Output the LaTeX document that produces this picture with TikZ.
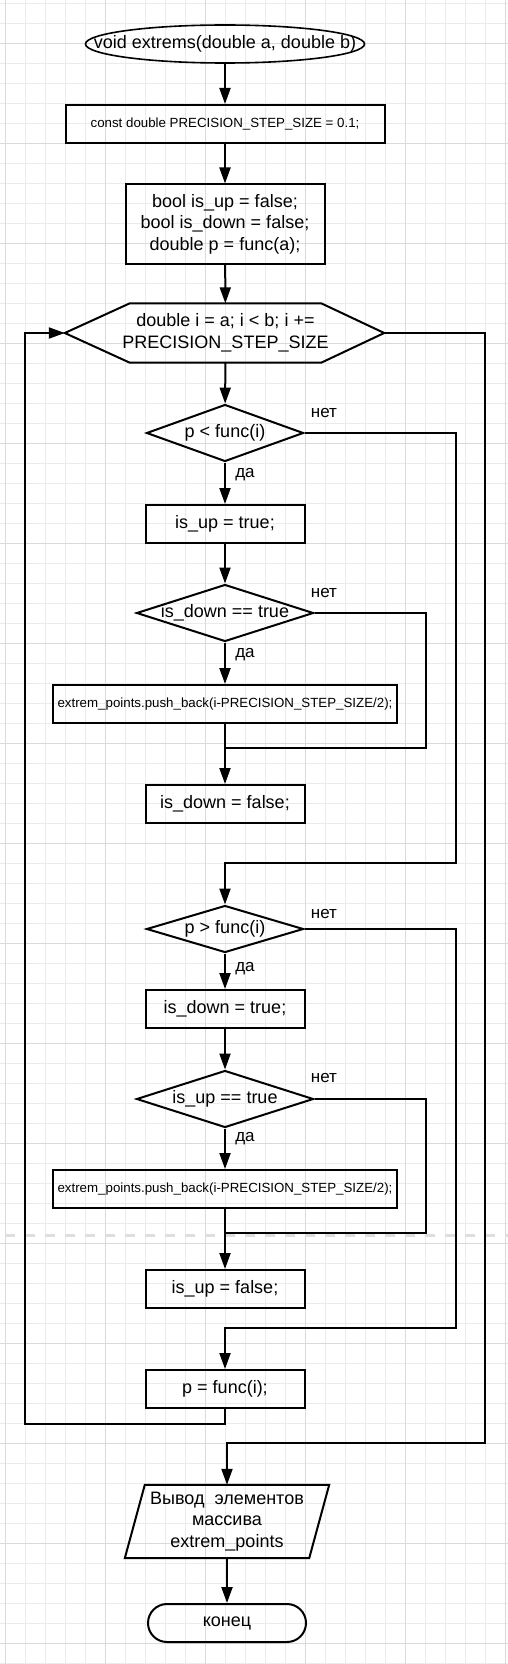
\documentclass[tikz,border=0pt]{standalone}
\usepackage{fontspec}
\setmainfont{Liberation Sans}
\usetikzlibrary{shapes.geometric,arrows.meta}

\definecolor{gridminor}{RGB}{235,235,235}
\definecolor{gridmajor}{RGB}{218,218,218}
\definecolor{pagebreak}{RGB}{222,222,222}

\tikzset{
  block/.style={draw, line width=2pt, minimum height=38pt, inner sep=1pt, align=center, font=\fontsize{18}{21.6}\selectfont},
  small/.style={font=\fontsize{13.3}{16}\selectfont},
  cond/.style={draw, diamond, line width=2pt, inner sep=0pt, font=\fontsize{18}{21.6}\selectfont},
  lbl/.style={inner sep=0pt, font=\fontsize{17}{20}\selectfont},
  line/.style={line width=2pt},
  arr/.style={line width=2pt, -{Triangle[length=16pt,width=11pt]}}
}

\begin{document}
\begin{tikzpicture}[x=1pt,y=-1pt]
\useasboundingbox (0,0) rectangle (508,1664);
\fill[white] (0,0) rectangle (508,1664);
\foreach \x in {5,25,...,505} \draw[gridminor] (\x,0) -- (\x,1664);
\foreach \y in {3,23,...,1663} \draw[gridminor] (0,\y) -- (508,\y);
\foreach \x in {5,105,...,505} \draw[gridmajor] (\x,0) -- (\x,1664);
\foreach \y in {43,143,...,1643} \draw[gridmajor] (0,\y) -- (508,\y);
\draw[pagebreak, line width=3pt, dash pattern=on 10pt off 10pt] (5,1235) -- (508,1235);

\node[draw, ellipse, line width=1.6pt, inner sep=0pt, minimum width=279pt, minimum height=38pt, font=\fontsize{18}{21.6}\selectfont] (start) at (225,44) {\makebox[0pt]{void extrems(double a, double b)}};
\node[block, small, minimum width=319pt] (init) at (225,124) {const double PRECISION\_STEP\_SIZE = 0.1;};
\node[block, minimum width=199pt, minimum height=79pt] (vars) at (225,224) {bool is\_up = false;\\bool is\_down = false;\\double p = func(a);};

\node[align=center, inner sep=0pt, minimum width=191pt, minimum height=59pt, font=\fontsize{18}{21.6}\selectfont] (loop) at (225.5,333) {\makebox[0pt]{double i = a; i < b; i +=}\\\makebox[0pt]{PRECISION\_STEP\_SIZE}};
\coordinate (loopL) at ([xshift=-65pt]loop.west);
\coordinate (loopR) at ([xshift=63pt]loop.east);
\draw[line] (loop.north west) -- (loop.north east) -- (loopR) -- (loop.south east) -- (loop.south west) -- (loopL) -- cycle;

\node[cond, minimum width=157pt, minimum height=57pt] (d1) at (225,433) {\makebox[0pt]{p < func(i)}};
\node[block, minimum width=159pt] (isupT) at (225,524) {is\_up = true;};
\node[cond, minimum width=177pt, minimum height=57pt] (d2) at (225,613) {\makebox[0pt]{is\_down == true}};
\node[block, small, minimum width=344pt] (push1) at (225,704) {extrem\_points.push\_back(i-PRECISION\_STEP\_SIZE/2);};
\coordinate (m1) at (225,748);
\node[block, minimum width=159pt] (isdownF) at (225,804) {is\_down = false;};

\coordinate (c1) at (225,863);
\node[cond, minimum width=157pt, minimum height=47pt] (d3) at (225,929) {\makebox[0pt]{p > func(i)}};
\node[block, minimum width=159pt] (isdownT) at (225,1009) {is\_down = true;};
\node[cond, minimum width=177pt, minimum height=57pt] (d4) at (225,1099) {\makebox[0pt]{is\_up == true}};
\node[block, small, minimum width=344pt] (push2) at (225,1189) {extrem\_points.push\_back(i-PRECISION\_STEP\_SIZE/2);};
\coordinate (m2) at (225,1233);
\node[block, minimum width=159pt] (isupF) at (225,1289) {is\_up = false;};

\coordinate (c2) at (225,1328);
\node[block, minimum width=159pt] (pf) at (225,1389) {p = func(i);};
\coordinate (c3) at (25,1424);
\coordinate (c4) at (227,1443);
\node[inner sep=0pt, minimum width=184pt, minimum height=73pt, align=center, font=\fontsize{18}{21.6}\selectfont] (out) at (227,1521.5) {Вывод\ \ элементов\\массива\\extrem\_points};
\draw[line] ([xshift=10pt]out.north west) -- ([xshift=10pt]out.north east) -- ([xshift=-10pt]out.south east) -- ([xshift=-10pt]out.south west) -- cycle;
\node[draw, rounded corners=19pt, line width=2pt, minimum width=158pt, minimum height=38pt, font=\fontsize{18}{21.6}\selectfont] (end) at (227,1623) {конец};

\node[lbl] (no1) at (324,413) {нет};
\node[lbl] (yes1) at (245,475) {да};
\node[lbl] (no2) at (324,593) {нет};
\node[lbl] (yes2) at (245,655) {да};
\node[lbl] (no3) at (324,914) {нет};
\node[lbl] (yes3) at (245,969) {да};
\node[lbl] (no4) at (324,1078) {нет};
\node[lbl] (yes4) at (245,1139) {да};

\draw[arr] (start) -- (init);
\draw[arr] (init) -- (vars);
\draw[arr] (vars) -- (loop);
\draw[arr] (loop) -- (d1);
\draw[arr] (d1) -- (isupT);
\draw[arr] (isupT) -- (d2);
\draw[arr] (d2) -- (push1);
\draw[line] (push1) -- (m1);
\draw[line] (d2.east) -- ++(111,0) |- (m1);
\draw[arr] (m1) -- (isdownF);
\draw[arr] (d1.east) -- ++(151,0) |- (c1) -- (d3);
\draw[arr] (d3) -- (isdownT);
\draw[arr] (isdownT) -- (d4);
\draw[arr] (d4) -- (push2);
\draw[line] (push2) -- (m2);
\draw[line] (d4.east) -- ++(111,0) |- (m2);
\draw[arr] (m2) -- (isupF);
\draw[arr] (d3.east) -- ++(151,0) |- (c2) -- (pf);
\draw[arr] (pf.south) |- (c3) |- (loopL);
\draw[arr] (loopR) -- ++(101,0) |- (c4) -- (out);
\draw[arr] (out) -- (end);
\end{tikzpicture}
\end{document}
